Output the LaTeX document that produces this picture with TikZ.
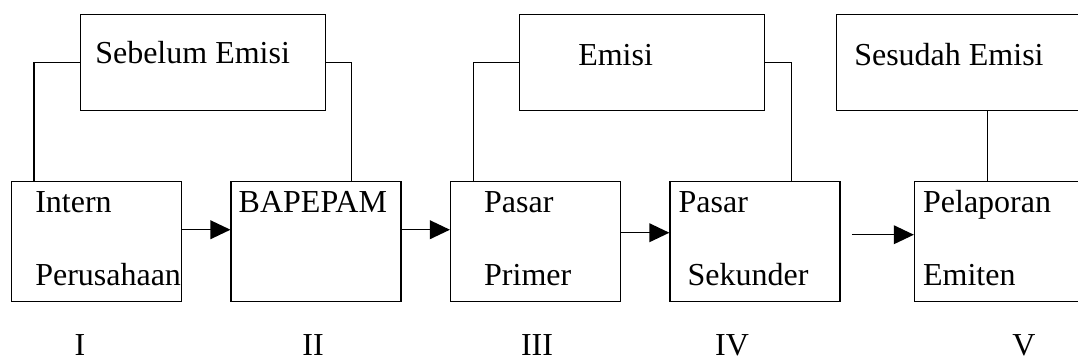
\documentclass[tikz,border=0pt]{standalone}
\usepackage{fontspec}
\setmainfont{Liberation Serif}
\usetikzlibrary{arrows.meta,positioning}
\tikzset{
  box/.style={draw, rectangle, anchor=north west, inner sep=0pt, line width=1.1pt, minimum width=127.5pt, minimum height=90pt},
  tbox/.style={box, minimum width=183.75pt, minimum height=72pt},
  lbl/.style={anchor=base west, inner sep=0pt, font=\fontsize{24}{28}\selectfont},
  num/.style={lbl, anchor=base},
  arr/.style={-{Triangle[length=15pt, width=14pt]}, line width=1.1pt},
  link/.style={line width=0.8pt},
}

\begin{document}
\begin{tikzpicture}[x=0.75pt, y=-0.75pt]
\clip (0,0) rectangle (1078,360);

% stages
\node[tbox] (sebelum) at (80,14) {};
\node[tbox] (emisi) at (519,14) {};
\node[tbox] (sesudah) at (836,14) {};

\node[lbl] (sebelum-t) at ([shift={(15,50)}]sebelum.north west) {Sebelum Emisi};
\node[lbl] (emisi-t) at ([shift={(59,51)}]emisi.north west) {Emisi};
\node[lbl] (sesudah-t) at ([shift={(18,51)}]sesudah.north west) {Sesudah Emisi};

% steps
\node[box] (intern) at (11,181) {};
\node[box, right=36pt of intern] (bapepam) {};
\node[box, right=36pt of bapepam] (primer) {};
\node[box, right=36pt of primer] (sekunder) {};
\node[box, right=54.75pt of sekunder] (pelaporan) {};

\node[lbl] (intern-a) at ([shift={(24,31)}]intern.north west) {Intern};
\node[lbl] (intern-b) at ([shift={(24,104)}]intern.north west) {Perusahaan};
\node[lbl] (bapepam-a) at ([shift={(8,31)}]bapepam.north west) {BAPEPAM};
\node[lbl] (primer-a) at ([shift={(34,31)}]primer.north west) {Pasar};
\node[lbl] (primer-b) at ([shift={(34,104)}]primer.north west) {Primer};
\node[lbl] (sekunder-a) at ([shift={(9,31)}]sekunder.north west) {Pasar};
\node[lbl] (sekunder-b) at ([shift={(18,104)}]sekunder.north west) {Sekunder};
\node[lbl] (pelaporan-a) at ([shift={(9,31)}]pelaporan.north west) {Pelaporan};
\node[lbl] (pelaporan-b) at ([shift={(9,104)}]pelaporan.north west) {Emiten};

% numbers
\node[num] (n1) at (80,355) {I};
\node[num] (n2) at (313,355) {II};
\node[num] (n3) at (537,355) {III};
\node[num] (n4) at (732,355) {IV};
\node[num] (n5) at (1024,355) {V};

% links
\draw[link] (sebelum.west) -| ([xshift=17.25pt]intern.north west);
\draw[link] (sebelum.east) -| ([xshift=90.75pt]bapepam.north west);
\draw[link] (emisi.west) -| ([xshift=18pt]primer.north west);
\draw[link] (emisi.east) -| ([xshift=91.5pt]sekunder.north west);
\draw[link] ([xshift=55.5pt]pelaporan.north west) coordinate (d5) -- (d5 |- sesudah.south);

\draw[arr] ([yshift=9pt]intern.east) -- ([yshift=9pt]bapepam.west);
\draw[arr] ([yshift=9pt]bapepam.east) -- ([yshift=9pt]primer.west);
\draw[arr] ([yshift=6.75pt]primer.east) -- ([yshift=6.75pt]sekunder.west);
\draw[arr] ([xshift=8.25pt, yshift=5.25pt]sekunder.east) -- ([yshift=5.25pt]pelaporan.west);

\end{tikzpicture}
\end{document}
